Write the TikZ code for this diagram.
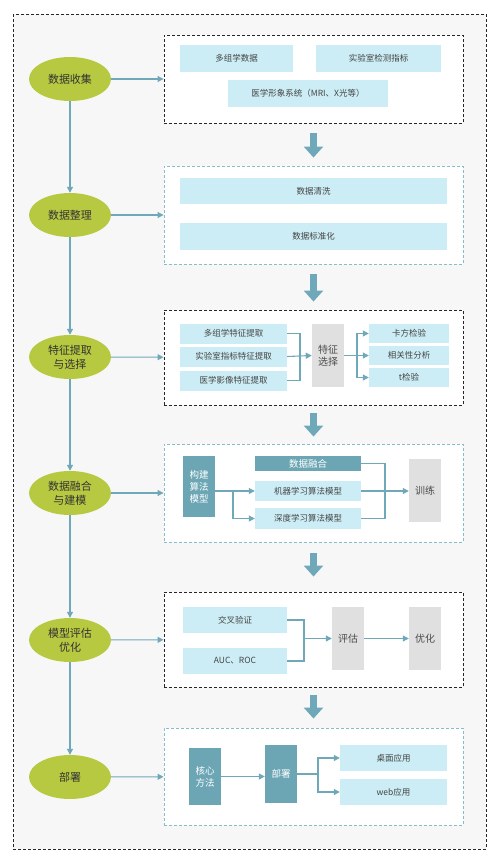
\documentclass[tikz,border=0pt]{standalone}
\usepackage{fontspec}
\setmainfont{Noto Sans CJK SC}
\usetikzlibrary{shapes.geometric, arrows.meta}

\definecolor{stagegreen}{HTML}{B6C940}
\definecolor{tealdark}{HTML}{6CA6B5}
\definecolor{tealline}{HTML}{6FA8B8}
\definecolor{tealdash}{HTML}{86BCCB}
\definecolor{lightblue}{HTML}{CCEDF5}
\definecolor{greybox}{HTML}{E0E0E0}
\definecolor{pagebg}{HTML}{F7F7F7}
\definecolor{txt}{HTML}{444444}

\begin{document}
\begin{tikzpicture}
          [x=1pt, y=-1pt, every node/.style={inner sep=0, align=center, text=txt},
          stage/.style={shape=ellipse, fill=stagegreen, minimum width=82pt, minimum height=44pt, text=black!80, font=\fontsize{11}{14}\selectfont},
          frameblack/.style={draw=black!85, dashed, dash pattern=on 3pt off 2pt, line width=0.9pt, fill=white, minimum width=299pt},
          frameteal/.style={draw=tealdash, dash pattern=on 3pt off 2pt, line width=0.9pt, fill=white, minimum width=299pt},
          item/.style={fill=lightblue, font=\fontsize{8.5}{10}\selectfont},
          dark/.style={fill=tealdark, text=white, font=\fontsize{9.5}{12}\selectfont},
          grey/.style={fill=greybox, text=black!70, font=\fontsize{10}{12.5}\selectfont},
          link/.style={draw=tealline, line width=1.1pt, -{Triangle[width=6pt,length=6pt]}},
          line/.style={draw=tealline, line width=1.1pt},
          bigarrow/.style={draw=tealline, line width=7pt, -{Triangle[width=19pt,length=11pt]}}]

          \useasboundingbox (0,0) rectangle (500,863);
          \draw[black!85, dash pattern=on 3pt off 2pt, line width=0.9pt, fill=pagebg] (13,14) rectangle (486,849);

          % stages
          \node[stage] (e1) at (70, 79) {数据收集};
          \node[stage] (e2) at (70, 215) {数据整理};
          \node[stage] (e3) at (70, 357) {特征提取\\与选择};
          \node[stage] (e4) at (70, 493) {数据融合\\与建模};
          \node[stage] (e5) at (70, 640) {模型评估\\优化};
          \node[stage] (e6) at (70, 777) {部署};

          % frames
          \node[frameblack, minimum height=88pt] (f1) at (313.5, 79) {};
          \node[frameteal, minimum height=98pt] (f2) at (313.5, 215) {};
          \node[frameblack, minimum height=95pt] (f3) at (313.5, 357.5) {};
          \node[frameteal, minimum height=98pt] (f4) at (313.5, 493) {};
          \node[frameblack, minimum height=95pt] (f5) at (313.5, 639.5) {};
          \node[frameteal, minimum height=97pt] (f6) at (313.5, 776.5) {};

          \draw[link] (e1) -- (e2);
          \draw[link] (e2) -- (e3);
          \draw[link] (e3) -- (e4);
          \draw[link] (e4) -- (e5);
          \draw[link] (e5) -- (e6);
          \draw[link] (e1) -- (f1);
          \draw[link] (e2) -- (f2);
          \draw[link] (e3) -- (f3);
          \draw[link] (e4) -- (f4);
          \draw[link] (e5) -- (f5);
          \draw[link] (e6) -- (f6);

          \draw[bigarrow, shorten <=10pt, shorten >=8pt] (f1) -- (f2);
          \draw[bigarrow, shorten <=10pt, shorten >=8pt] (f2) -- (f3);
          \draw[bigarrow, shorten <=8pt, shorten >=7pt] (f3) -- (f4);
          \draw[bigarrow, shorten <=11pt, shorten >=15pt] (f4) -- (f5);
          \draw[bigarrow, shorten <=8pt, shorten >=9pt] (f5) -- (f6);

          % data collection
          \node[item, minimum width=113pt, minimum height=27pt] (d1) at (236.5, 58.5) {多组学数据};
          \node[item, minimum width=125pt, minimum height=27pt] (d2) at (378.5, 58.5) {实验室检测指标};
          \node[item, minimum width=160pt, minimum height=27pt] (d3) at (308, 93.5) {医学形象系统（MRI、X光等）};

          % data cleaning
          \node[item, minimum width=267pt, minimum height=26pt] (c1) at (313.5, 191) {数据清洗};
          \node[item, minimum width=267pt, minimum height=27pt] (c2) at (313.5, 236.5) {数据标准化};

          % features
          \node[item, minimum width=107pt, minimum height=20pt] (t1) at (233.5, 333.5) {多组学特征提取};
          \node[item, minimum width=107pt, minimum height=20pt] (t2) at (233.5, 356.5) {实验室指标特征提取};
          \node[item, minimum width=107pt, minimum height=20pt] (t3) at (233.5, 380.5) {医学影像特征提取};
          \node[grey, minimum width=32pt, minimum height=63pt] (s) at (328, 355.5) {特征\\选择};
          \node[item, minimum width=80pt, minimum height=19pt] (r1) at (409, 333.5) {卡方检验};
          \node[item, minimum width=80pt, minimum height=19pt] (r2) at (409, 355.5) {相关性分析};
          \node[item, minimum width=80pt, minimum height=19pt] (r3) at (409, 377.5) {t检验};
          \coordinate (j3) at (300, 355.5);
          \coordinate (k3) at (357, 355.5);

          \draw[line] (t1.east) -| (j3);
          \draw[line] (t3.east) -| (j3);
          \draw[link] (t2.east) -- (s.west);
          \draw[line] (s.east) -- (k3);
          \draw[link] (k3) |- (r1.west);
          \draw[link] (k3) -- (r2.west);
          \draw[link] (k3) |- (r3.west);

          % fusion and modelling
          \node[dark, minimum width=32pt, minimum height=61pt] (m0) at (199, 486.5) {构建\\算法\\模型};
          \node[dark, minimum width=106pt, minimum height=15pt] (m1) at (308, 463.5) {数据融合};
          \node[item, minimum width=106pt, minimum height=20pt] (m2) at (308, 491) {机器学习算法模型};
          \node[item, minimum width=106pt, minimum height=21pt] (m3) at (308, 518.5) {深度学习算法模型};
          \node[grey, minimum width=32pt, minimum height=63pt] (m4) at (425, 490.5) {训练};
          \coordinate (j4) at (233, 491);
          \coordinate (k4) at (385, 491);

          \draw[line] (m2 -| m0.east) -- (j4);
          \draw[link] (j4) -- (m2.west);
          \draw[link] (j4) |- (m3.west);
          \draw[line] (m1.east) -| (k4);
          \draw[line] (m3.east) -| (k4);
          \draw[link] (m2.east) -- (m4.west |- m2);

          % evaluation
          \node[item, minimum width=104pt, minimum height=26pt] (v1) at (235, 620) {交叉验证};
          \node[item, minimum width=104pt, minimum height=26pt] (v2) at (235, 661) {AUC、ROC};
          \node[grey, minimum width=32pt, minimum height=63pt] (v3) at (348, 638.5) {评估};
          \node[grey, minimum width=32pt, minimum height=63pt] (v4) at (425, 638.5) {优化};
          \coordinate (j5) at (304, 638.5);

          \draw[line] (v1.east) -| (j5);
          \draw[line] (v2.east) -| (j5);
          \draw[link] (j5) -- (v3.west);
          \draw[link] (v3) -- (v4);

          % deployment
          \node[dark, minimum width=32pt, minimum height=57pt] (p1) at (205, 776.5) {核心\\方法};
          \node[dark, minimum width=32pt, minimum height=58pt] (p2) at (281, 774) {部署};
          \node[item, minimum width=107pt, minimum height=26pt] (p3) at (393.5, 758) {桌面应用};
          \node[item, minimum width=107pt, minimum height=26pt] (p4) at (393.5, 792) {web应用};
          \coordinate (j6) at (318, 774);

          \draw[link] (p1.east) -- (p1.east -| p2.west);
          \draw[line] (p2.east) -- (j6);
          \draw[link] (j6) |- (p3.west);
          \draw[link] (j6) |- (p4.west);

        \end{tikzpicture}
\end{document}
